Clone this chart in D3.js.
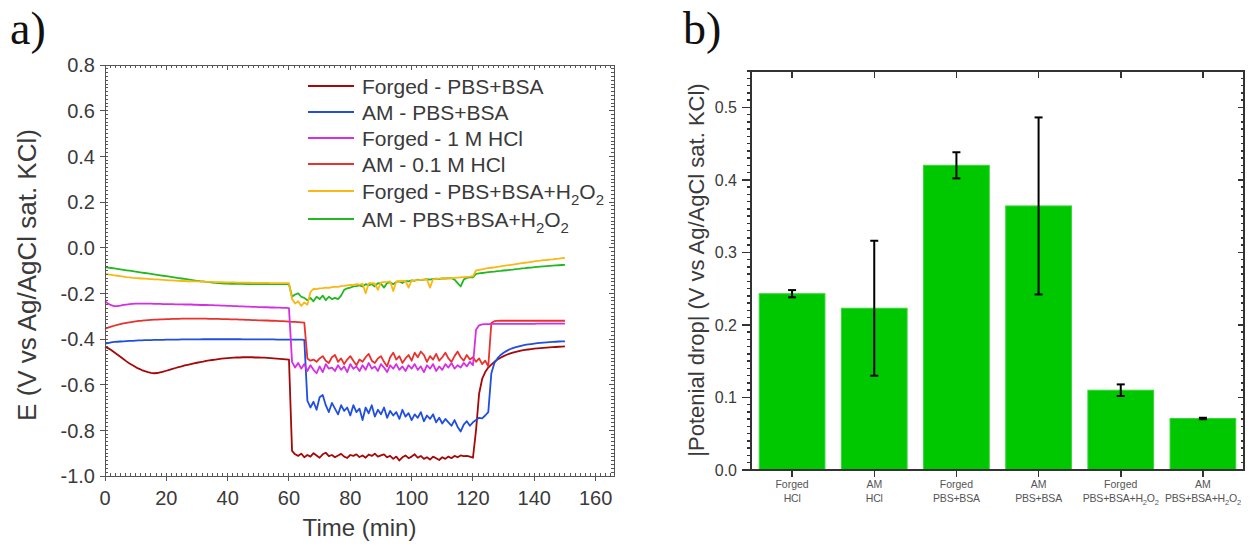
<!DOCTYPE html>
<html>
<head>
<meta charset="utf-8">
<script src="https://cdn.jsdelivr.net/npm/d3@7"></script>
<style>
  body { margin: 0; background: #fff; }
  svg { display: block; font-family: 'Liberation Sans', Arial, sans-serif; }
  .crisp line, .crisp rect { shape-rendering: crispEdges; }
</style>
</head>
<body>
<svg width="1258" height="547"></svg>
<script>
// ---- panel a data: potential vs time (min), one reading per minute
var time = [
  0, 1, 2, 3, 4, 5, 6, 7, 8, 9, 10, 11, 12, 13, 14, 15, 16, 17, 18, 19, 20,
  21, 22, 23, 24, 25, 26, 27, 28, 29, 30, 31, 32, 33, 34, 35, 36, 37, 38, 39, 40,
  41, 42, 43, 44, 45, 46, 47, 48, 49, 50, 51, 52, 53, 54, 55, 56, 57, 58, 59, 60,
  61, 62, 63, 64, 65, 66, 67, 68, 69, 70, 71, 72, 73, 74, 75, 76, 77, 78, 79, 80,
  81, 82, 83, 84, 85, 86, 87, 88, 89, 90, 91, 92, 93, 94, 95, 96, 97, 98, 99, 100,
  101, 102, 103, 104, 105, 106, 107, 108, 109, 110, 111, 112, 113, 114, 115, 116, 117, 118, 119, 120,
  121, 122, 123, 124, 125, 126, 127, 128, 129, 130, 131, 132, 133, 134, 135, 136, 137, 138, 139, 140,
  141, 142, 143, 144, 145, 146, 147, 148, 149, 150
];

var forgedPbs = [
  -0.435, -0.440, -0.448, -0.458, -0.468, -0.478, -0.488, -0.498, -0.507, -0.515, -0.523,
  -0.530, -0.536, -0.541, -0.545, -0.548, -0.550, -0.549, -0.546, -0.543, -0.539,
  -0.535, -0.531, -0.527, -0.523, -0.520, -0.516, -0.513, -0.510, -0.507, -0.504,
  -0.501, -0.499, -0.496, -0.494, -0.492, -0.490, -0.488, -0.486, -0.485, -0.484,
  -0.483, -0.482, -0.481, -0.481, -0.480, -0.480, -0.480, -0.480, -0.481, -0.481,
  -0.482, -0.482, -0.483, -0.484, -0.485, -0.486, -0.487, -0.488, -0.489, -0.490,
  -0.890, -0.905, -0.912, -0.902, -0.918, -0.908, -0.915, -0.900, -0.910, -0.920,
  -0.905, -0.898, -0.913, -0.908, -0.918, -0.910, -0.903, -0.915, -0.921, -0.908,
  -0.912, -0.905, -0.917, -0.910, -0.920, -0.906, -0.912, -0.902, -0.915, -0.910,
  -0.905, -0.918, -0.912, -0.925, -0.915, -0.932, -0.918, -0.910, -0.922, -0.915,
  -0.905, -0.920, -0.912, -0.925, -0.918, -0.928, -0.915, -0.922, -0.930, -0.918,
  -0.925, -0.915, -0.922, -0.912, -0.918, -0.910, -0.913, -0.912, -0.915, -0.920,
  -0.800, -0.640, -0.575, -0.545, -0.525, -0.512, -0.500, -0.490, -0.482, -0.475,
  -0.469, -0.464, -0.460, -0.456, -0.453, -0.450, -0.448, -0.446, -0.444, -0.442,
  -0.441, -0.440, -0.439, -0.438, -0.437, -0.436, -0.435, -0.434, -0.433, -0.432
];

var amPbs = [
  -0.420, -0.418, -0.415, -0.413, -0.412, -0.411, -0.410, -0.409, -0.408, -0.408, -0.407,
  -0.406, -0.406, -0.405, -0.405, -0.405, -0.404, -0.404, -0.404, -0.404, -0.403,
  -0.403, -0.403, -0.403, -0.403, -0.402, -0.402, -0.402, -0.402, -0.402, -0.402,
  -0.402, -0.401, -0.401, -0.401, -0.401, -0.401, -0.401, -0.401, -0.401, -0.401,
  -0.401, -0.401, -0.401, -0.401, -0.402, -0.402, -0.402, -0.402, -0.402, -0.402,
  -0.402, -0.402, -0.402, -0.402, -0.402, -0.403, -0.403, -0.403, -0.403, -0.403,
  -0.403, -0.403, -0.403, -0.403, -0.404, -0.670, -0.700, -0.675, -0.710, -0.655,
  -0.645, -0.690, -0.720, -0.680, -0.705, -0.730, -0.690, -0.715, -0.700, -0.735,
  -0.690, -0.720, -0.705, -0.755, -0.700, -0.725, -0.690, -0.740, -0.710, -0.730,
  -0.700, -0.745, -0.715, -0.735, -0.720, -0.750, -0.710, -0.740, -0.725, -0.755,
  -0.730, -0.745, -0.720, -0.760, -0.735, -0.750, -0.730, -0.765, -0.745, -0.770,
  -0.750, -0.765, -0.780, -0.755, -0.785, -0.805, -0.775, -0.760, -0.780, -0.765,
  -0.755, -0.745, -0.748, -0.735, -0.720, -0.550, -0.505, -0.485, -0.470, -0.460,
  -0.452, -0.445, -0.440, -0.436, -0.432, -0.429, -0.426, -0.424, -0.422, -0.420,
  -0.418, -0.417, -0.416, -0.415, -0.414, -0.413, -0.412, -0.411, -0.410, -0.410
];

var forgedHcl = [
  -0.235, -0.245, -0.252, -0.256, -0.256, -0.254, -0.251, -0.249, -0.247, -0.246, -0.245,
  -0.245, -0.245, -0.245, -0.245, -0.245, -0.246, -0.246, -0.246, -0.247, -0.247,
  -0.247, -0.247, -0.248, -0.248, -0.248, -0.249, -0.249, -0.249, -0.250, -0.250,
  -0.251, -0.251, -0.251, -0.252, -0.252, -0.253, -0.253, -0.254, -0.254, -0.255,
  -0.255, -0.256, -0.256, -0.257, -0.257, -0.258, -0.258, -0.259, -0.259, -0.260,
  -0.260, -0.261, -0.261, -0.262, -0.262, -0.263, -0.263, -0.264, -0.264, -0.265,
  -0.500, -0.525, -0.505, -0.530, -0.510, -0.540, -0.515, -0.535, -0.550, -0.520,
  -0.545, -0.510, -0.530, -0.525, -0.540, -0.515, -0.535, -0.520, -0.545, -0.510,
  -0.530, -0.520, -0.540, -0.515, -0.535, -0.505, -0.530, -0.520, -0.540, -0.510,
  -0.525, -0.545, -0.515, -0.530, -0.510, -0.535, -0.520, -0.540, -0.515, -0.530,
  -0.510, -0.535, -0.520, -0.545, -0.515, -0.530, -0.510, -0.540, -0.520, -0.535,
  -0.510, -0.525, -0.505, -0.530, -0.515, -0.525, -0.505, -0.520, -0.500, -0.515,
  -0.360, -0.340, -0.336, -0.335, -0.335, -0.334, -0.334, -0.334, -0.334, -0.334,
  -0.334, -0.334, -0.334, -0.334, -0.334, -0.334, -0.334, -0.334, -0.334, -0.334,
  -0.333, -0.333, -0.333, -0.333, -0.333, -0.333, -0.333, -0.333, -0.333, -0.333
];

var amHcl = [
  -0.355, -0.350, -0.346, -0.342, -0.338, -0.335, -0.332, -0.329, -0.327, -0.325, -0.323,
  -0.321, -0.320, -0.318, -0.317, -0.316, -0.315, -0.315, -0.314, -0.314, -0.313,
  -0.313, -0.312, -0.312, -0.312, -0.311, -0.311, -0.311, -0.311, -0.311, -0.311,
  -0.311, -0.311, -0.311, -0.312, -0.312, -0.312, -0.312, -0.313, -0.313, -0.313,
  -0.314, -0.314, -0.314, -0.315, -0.315, -0.316, -0.316, -0.317, -0.317, -0.318,
  -0.318, -0.319, -0.319, -0.320, -0.320, -0.321, -0.322, -0.322, -0.323, -0.324,
  -0.325, -0.325, -0.326, -0.327, -0.328, -0.485, -0.495, -0.490, -0.500, -0.485,
  -0.475, -0.495, -0.505, -0.480, -0.470, -0.500, -0.485, -0.510, -0.490, -0.475,
  -0.495, -0.515, -0.490, -0.500, -0.480, -0.465, -0.495, -0.505, -0.485, -0.475,
  -0.500, -0.520, -0.480, -0.460, -0.490, -0.475, -0.505, -0.485, -0.470, -0.495,
  -0.460, -0.480, -0.455, -0.470, -0.500, -0.475, -0.490, -0.465, -0.495, -0.480,
  -0.460, -0.485, -0.500, -0.475, -0.455, -0.480, -0.495, -0.470, -0.490, -0.480,
  -0.500, -0.485, -0.510, -0.495, -0.520, -0.330, -0.322, -0.321, -0.320, -0.320,
  -0.320, -0.320, -0.320, -0.320, -0.320, -0.320, -0.320, -0.320, -0.320, -0.320,
  -0.320, -0.320, -0.320, -0.320, -0.320, -0.320, -0.320, -0.320, -0.320, -0.320
];

var forgedH2o2 = [
  -0.115, -0.117, -0.119, -0.121, -0.123, -0.125, -0.127, -0.129, -0.130, -0.132, -0.133,
  -0.134, -0.135, -0.136, -0.137, -0.138, -0.139, -0.139, -0.140, -0.141, -0.142,
  -0.143, -0.143, -0.144, -0.145, -0.146, -0.146, -0.147, -0.147, -0.148, -0.148,
  -0.149, -0.149, -0.150, -0.150, -0.150, -0.151, -0.151, -0.151, -0.152, -0.152,
  -0.152, -0.152, -0.153, -0.153, -0.153, -0.153, -0.153, -0.154, -0.154, -0.154,
  -0.154, -0.154, -0.154, -0.155, -0.155, -0.155, -0.155, -0.155, -0.155, -0.155,
  -0.225, -0.245, -0.235, -0.255, -0.240, -0.250, -0.195, -0.180, -0.182, -0.178,
  -0.177, -0.175, -0.176, -0.173, -0.172, -0.172, -0.168, -0.167, -0.165, -0.163,
  -0.164, -0.160, -0.162, -0.158, -0.200, -0.156, -0.155, -0.157, -0.185, -0.152,
  -0.151, -0.150, -0.148, -0.190, -0.148, -0.147, -0.146, -0.145, -0.175, -0.143,
  -0.143, -0.142, -0.141, -0.140, -0.139, -0.175, -0.138, -0.137, -0.136, -0.135,
  -0.135, -0.134, -0.133, -0.132, -0.131, -0.130, -0.129, -0.128, -0.127, -0.125,
  -0.100, -0.097, -0.095, -0.092, -0.090, -0.088, -0.086, -0.084, -0.082, -0.080,
  -0.078, -0.076, -0.074, -0.072, -0.070, -0.068, -0.066, -0.064, -0.062, -0.060,
  -0.058, -0.057, -0.055, -0.054, -0.052, -0.051, -0.049, -0.048, -0.046, -0.045
];

var amH2o2 = [
  -0.085, -0.087, -0.089, -0.091, -0.093, -0.095, -0.097, -0.099, -0.101, -0.103, -0.105,
  -0.107, -0.109, -0.111, -0.113, -0.115, -0.117, -0.119, -0.121, -0.123, -0.125,
  -0.127, -0.129, -0.131, -0.133, -0.135, -0.137, -0.139, -0.141, -0.143, -0.145,
  -0.147, -0.148, -0.150, -0.151, -0.153, -0.154, -0.155, -0.156, -0.157, -0.157,
  -0.158, -0.158, -0.159, -0.159, -0.159, -0.160, -0.160, -0.160, -0.160, -0.160,
  -0.160, -0.160, -0.160, -0.160, -0.160, -0.160, -0.160, -0.160, -0.160, -0.160,
  -0.215, -0.205, -0.200, -0.215, -0.220, -0.230, -0.220, -0.235, -0.215, -0.225,
  -0.210, -0.230, -0.215, -0.225, -0.220, -0.225, -0.210, -0.185, -0.178, -0.175,
  -0.170, -0.168, -0.165, -0.170, -0.160, -0.165, -0.160, -0.170, -0.155, -0.158,
  -0.175, -0.155, -0.152, -0.160, -0.150, -0.148, -0.155, -0.145, -0.148, -0.143,
  -0.145, -0.140, -0.142, -0.140, -0.138, -0.140, -0.137, -0.136, -0.138, -0.135,
  -0.135, -0.133, -0.134, -0.140, -0.155, -0.170, -0.140, -0.132, -0.130, -0.130,
  -0.115, -0.113, -0.111, -0.109, -0.107, -0.106, -0.105, -0.103, -0.102, -0.100,
  -0.099, -0.097, -0.096, -0.094, -0.093, -0.091, -0.090, -0.088, -0.087, -0.085,
  -0.084, -0.083, -0.082, -0.081, -0.080, -0.079, -0.078, -0.077, -0.076, -0.075
];

var seriesNames = [
  'Forged - PBS+BSA', 'AM - PBS+BSA', 'Forged - 1 M HCl',
  'AM - 0.1 M HCl', 'Forged - PBS+BSA+H2O2', 'AM - PBS+BSA+H2O2'
];
var seriesValues = [forgedPbs, amPbs, forgedHcl, amHcl, forgedH2o2, amH2o2];
var timeTicks = [0, 20, 40, 60, 80, 100, 120, 140, 160];
var potentialTicks = [-1.0, -0.8, -0.6, -0.4, -0.2, 0.0, 0.2, 0.4, 0.6, 0.8];

// ---- panel b data: |potential drop| per condition
var barTop = ['Forged', 'AM', 'Forged', 'AM', 'Forged', 'AM'];
var barBottom = ['HCl', 'HCl', 'PBS+BSA', 'PBS+BSA', 'PBS+BSA+H2O2', 'PBS+BSA+H2O2'];
var barValues = [0.243, 0.223, 0.420, 0.364, 0.110, 0.071];
var barErrors = [0.005, 0.093, 0.018, 0.122, 0.008, 0.001];
var dropTicks = [0.0, 0.1, 0.2, 0.3, 0.4, 0.5];

// styles
var lineColors = ['#a50808', '#1f4ee0', '#d52fe6', '#e8322e', '#fbb714', '#22b822'];
var drawOrder = [0, 1, 3, 2, 5, 4];
var textColor = '#3a3a3a';

var svg = d3.select('svg');
svg.append('rect').attr('width', 1258).attr('height', 547).attr('fill', '#fff');

function chemText(sel, str, subSize) {
  str.split(/(H2O2)/).forEach(function(p) {
    if (p === 'H2O2') {
      sel.append('tspan').text('H');
      sel.append('tspan').attr('font-size', subSize).attr('dy', subSize * 0.45).text('2');
      sel.append('tspan').attr('dy', -subSize * 0.45).text('O');
      sel.append('tspan').attr('font-size', subSize).attr('dy', subSize * 0.45).text('2');
    } else if (p) {
      sel.append('tspan').text(p);
    }
  });
}

function tickLines(g, values, x1, y1, x2, y2) {
  g.selectAll(null).data(values).enter().append('line')
    .attr('x1', x1).attr('y1', y1)
    .attr('x2', x2).attr('y2', y2);
}

// ================= panel a =================
var ax = d3.scaleLinear().domain([0, 166]).range([105, 614]);
var ay = d3.scaleLinear().domain([-1, 0.8]).range([476, 65]);

var pa = svg.append('g');

var line = d3.line()
  .x(function(d, i) { return ax(time[i]); })
  .y(function(d) { return ay(d); });

drawOrder.forEach(function(k) {
  pa.append('path')
    .datum(seriesValues[k])
    .attr('d', line)
    .attr('fill', 'none')
    .attr('stroke', lineColors[k])
    .attr('stroke-width', 1.8)
    .attr('stroke-linejoin', 'round');
});

var fa = pa.append('g').attr('class', 'crisp')
  .attr('stroke', '#555').attr('stroke-width', 1);
fa.append('rect')
  .attr('x', ax(0)).attr('y', ay(0.8))
  .attr('width', ax(166) - ax(0)).attr('height', ay(-1) - ay(0.8))
  .attr('fill', 'none');

var xMinor = d3.range(0, 166, 20 / 12);
var yMinor = d3.range(-1, 0.8001, 0.2 / 12);
var x0 = ax.range()[0], x1 = ax.range()[1], y0 = ay.range()[0], y1 = ay.range()[1];

// minor ticks (inside), majors out on bottom/left, in on top/right
tickLines(fa, xMinor, ax, y0, ax, y0 - 3);
tickLines(fa, xMinor, ax, y1, ax, y1 + 3);
tickLines(fa, yMinor, x0, ay, x0 + 3, ay);
tickLines(fa, yMinor, x1, ay, x1 - 3, ay);
tickLines(fa, timeTicks, ax, y0, ax, y0 + 5);
tickLines(fa, timeTicks, ax, y1, ax, y1 + 5);
tickLines(fa, potentialTicks, x0, ay, x0 - 5, ay);
tickLines(fa, potentialTicks, x1, ay, x1 - 5, ay);

pa.selectAll('.xlab').data(timeTicks).enter().append('text')
  .attr('x', ax).attr('y', 505)
  .attr('text-anchor', 'middle')
  .attr('font-size', 20).attr('fill', textColor)
  .text(function(d) { return d; });

pa.selectAll('.ylab').data(potentialTicks).enter().append('text')
  .attr('x', 95).attr('y', ay).attr('dy', '0.36em')
  .attr('text-anchor', 'end')
  .attr('font-size', 20).attr('fill', textColor)
  .text(function(d) { return d.toFixed(1); });

pa.append('text')
  .attr('x', (x0 + x1) / 2).attr('y', 536)
  .attr('text-anchor', 'middle')
  .attr('font-size', 24).attr('fill', textColor)
  .text('Time (min)');

pa.append('text')
  .attr('transform', 'translate(36,275) rotate(-90)')
  .attr('text-anchor', 'middle')
  .attr('font-size', 26).attr('fill', textColor)
  .text('E (V vs Ag/AgCl sat. KCl)');

// legend
var legendRows = [86, 112, 138, 164, 191, 219];
seriesNames.forEach(function(name, i) {
  pa.append('line')
    .attr('x1', 308).attr('x2', 354)
    .attr('y1', legendRows[i]).attr('y2', legendRows[i])
    .attr('stroke', lineColors[i]).attr('stroke-width', 1.8);
  var t = pa.append('text')
    .attr('x', 362).attr('y', legendRows[i]).attr('dy', '0.36em')
    .attr('font-size', 21).attr('fill', textColor);
  chemText(t, name, 15);
});

pa.append('text')
  .attr('x', 10).attr('y', 44)
  .attr('font-family', "'Liberation Serif', 'Times New Roman', serif")
  .attr('font-size', 46).attr('fill', '#111')
  .text('a)');

// ================= panel b =================
var bx = d3.scaleBand().domain(d3.range(barValues.length))
  .range([751, 1244]).paddingInner(0.2).paddingOuter(0.1);
var by = d3.scaleLinear().domain([0, 0.55]).range([470, 71]);

var pb = svg.append('g');

pb.selectAll('.bar').data(barValues).enter().append('rect')
  .attr('x', function(d, i) { return bx(i); })
  .attr('y', function(d) { return by(d); })
  .attr('width', bx.bandwidth())
  .attr('height', function(d) { return by(0) - by(d); })
  .attr('fill', '#00c800')
  .attr('stroke', '#3ad43a').attr('stroke-width', 1);

var err = pb.append('g').attr('stroke', '#000').attr('stroke-width', 2);
barValues.forEach(function(v, i) {
  var cx = bx(i) + bx.bandwidth() / 2;
  var lo = by(v - barErrors[i]), hi = by(v + barErrors[i]);
  err.append('line').attr('x1', cx).attr('x2', cx).attr('y1', lo).attr('y2', hi);
  err.append('line').attr('x1', cx - 4).attr('x2', cx + 4).attr('y1', lo).attr('y2', lo);
  err.append('line').attr('x1', cx - 4).attr('x2', cx + 4).attr('y1', hi).attr('y2', hi);
});

var fb = pb.append('g').attr('class', 'crisp')
  .attr('stroke', '#333').attr('stroke-width', 1.5);
var bx0 = 751, bx1 = 1244, by0 = by(0), by1 = by(0.55);
fb.append('rect')
  .attr('x', bx0).attr('y', by1)
  .attr('width', bx1 - bx0).attr('height', by0 - by1)
  .attr('fill', 'none');

var bMinor = d3.range(0, 0.5501, 0.01);
var centers = barValues.map(function(d, i) { return bx(i) + bx.bandwidth() / 2; });
tickLines(fb, bMinor, bx0, by, bx0 - 4, by);
tickLines(fb, bMinor, bx1, by, bx1 - 3, by);
tickLines(fb, dropTicks, bx0, by, bx0 - 9, by);
tickLines(fb, dropTicks, bx1, by, bx1 - 6, by);
tickLines(fb, centers, function(d) { return d; }, by0, function(d) { return d; }, by0 + 7);
tickLines(fb, centers, function(d) { return d; }, by1, function(d) { return d; }, by1 + 7);

pb.selectAll('.ylab').data(dropTicks).enter().append('text')
  .attr('x', 737).attr('y', by).attr('dy', '0.36em')
  .attr('text-anchor', 'end')
  .attr('font-size', 16).attr('fill', textColor)
  .text(function(d) { return d.toFixed(1); });

centers.forEach(function(cx, i) {
  pb.append('text')
    .attr('x', cx).attr('y', 488)
    .attr('text-anchor', 'middle')
    .attr('font-size', 10.5).attr('fill', '#555')
    .text(barTop[i]);
  var t = pb.append('text')
    .attr('x', cx).attr('y', 502)
    .attr('text-anchor', 'middle')
    .attr('font-size', 10.5).attr('fill', '#555')
    .attr('letter-spacing', -0.2);
  chemText(t, barBottom[i], 7.5);
});

pb.append('text')
  .attr('transform', 'translate(704,270) rotate(-90)')
  .attr('text-anchor', 'middle')
  .attr('font-size', 22).attr('fill', textColor)
  .text('|Potenial drop| (V vs Ag/AgCl sat. KCl)');

pb.append('text')
  .attr('x', 683).attr('y', 44)
  .attr('font-family', "'Liberation Serif', 'Times New Roman', serif")
  .attr('font-size', 46).attr('fill', '#111')
  .text('b)');
</script>
</body>
</html>
